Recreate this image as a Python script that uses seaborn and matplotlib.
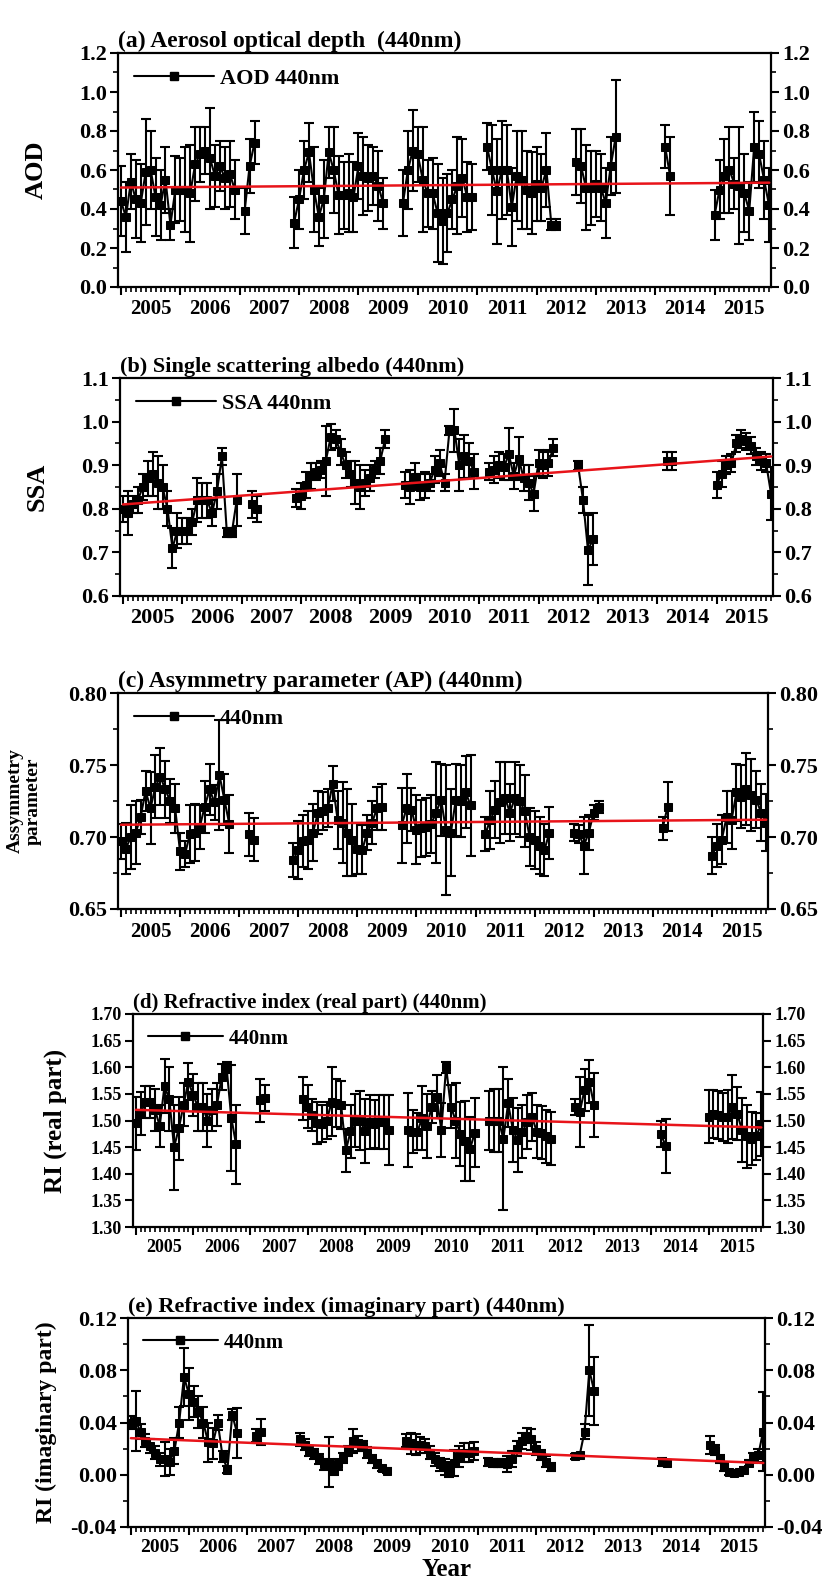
import numpy as np
import pandas as pd
import matplotlib
matplotlib.use("Agg")
import matplotlib.pyplot as plt
import seaborn as sns
from matplotlib.lines import Line2D
from matplotlib.ticker import MultipleLocator, FormatStrFormatter

N = np.nan

# ---------------- data ----------------
years = list(range(2005, 2016))
year_labels = [str(y) for y in years]
months = 2005 + np.arange(132) / 12.0   # Jan 2005 ... Dec 2015

aod = [
    .44, .36, .54, .45, .43, .59, .60, .46, .42, .55, .32, .50,   # 2005
    .50, .50, .48, .63, .68, .70, .66, .57, .62, .56, .58, .50,   # 2006
    N, .39, .62, .74, N, N, N, N, N, N, N, .33,                   # 2007
    .45, .60, .69, .50, .36, .45, .69, .60, .47, .47, .48, .46,   # 2008
    .62, .57, .56, .57, .52, .43, N, N, N, .43, .60, .70,         # 2009
    .68, .55, .48, .48, .38, .34, .38, .45, .52, .56, .46, .46,   # 2010
    N, N, .72, .60, .49, .60, .60, .41, .57, .55, .50, .48,       # 2011
    .53, .51, .60, .32, .32, N, N, N, .64, .62, .51, .51,         # 2012
    .53, .51, .43, .62, .77, N, N, N, N, N, N, N,                 # 2013
    N, N, .72, .57, N, N, N, N, N, N, N, N,                       # 2014
    .37, .50, .57, .60, .53, .52, .48, .39, .72, .68, .55, .42,   # 2015
]
aod_err = [
    .18, .18, .14, .20, .20, .27, .20, .20, .18, .17, .08, .17,
    .16, .22, .25, .19, .14, .12, .26, .16, .13, .16, .17, .15,
    N, .12, .14, .11, N, N, N, N, N, N, N, .13,
    .15, .15, .15, .22, .15, .20, .13, .22, .20, .17, .20, .18,
    .17, .20, .17, .15, .18, .13, N, N, N, .17, .20, .21,
    .14, .27, .17, .18, .25, .22, .20, .15, .25, .20, .18, .17,
    N, N, .12, .23, .27, .25, .23, .20, .23, .25, .20, .21,
    .19, .17, .19, .03, .03, N, N, N, .17, .19, .22, .19,
    .17, .17, .18, .15, .29, N, N, N, N, N, N, N,
    N, N, .11, .20, N, N, N, N, N, N, N, N,
    .13, .15, .19, .22, .13, .30, .20, .15, .18, .17, .20, .19,
]
aod_trend = [0.510, 0.535]

ssa = [
    .80, .79, .81, .82, .85, .87, .88, .86, .85, .80, .71, .75,
    .75, .75, .77, .82, .82, .82, .79, .84, .92, .745, .745, .82,
    N, N, .81, .80, N, N, N, N, N, N, N, .825,
    .83, .855, .875, .885, .89, .91, .965, .96, .93, .90, .88, .86,
    .85, .86, .87, .89, .91, .96, N, N, N, .855, .85, .874,
    .85, .855, .86, .89, .905, .86, .98, .98, .90, .92, .91, .885,
    N, N, .885, .89, .90, .895, .925, .875, .915, .87, .86, .835,
    .905, .90, .905, .94, N, N, N, N, .90, .82, .705, .73,
    N, N, N, N, N, N, N, N, N, N, N, N,
    N, N, .91, .91, N, N, N, N, N, N, N, N,
    .855, .88, .90, .905, .95, .96, .955, .945, .92, .91, .905, .835,
]
ssa_err = [
    .03, .05, .02, .03, .03, .04, .05, .06, .05, .04, .045, .04,
    .03, .03, .03, .05, .04, .04, .03, .04, .02, .01, .01, .06,
    N, N, .03, .03, N, N, N, N, N, N, N, .02,
    .03, .03, .03, .02, .02, .08, .03, .02, .03, .03, .03, .05,
    .05, .03, .03, .02, .03, .02, N, N, N, .03, .04, .03,
    .03, .03, .02, .03, .03, .02, .01, .05, .06, .05, .04, .04,
    N, N, .02, .03, .03, .03, .06, .03, .05, .03, .04, .04,
    .03, .03, .03, .02, N, N, N, N, .01, .03, .08, .06,
    N, N, N, N, N, N, N, N, N, N, N, N,
    N, N, .02, .02, N, N, N, N, N, N, N, N,
    .03, .03, .02, .02, .02, .02, .02, .02, .02, .02, .02, .06,
]
ssa_trend = [0.810, 0.920]

ap = [
    .697, .692, .700, .703, .714, .732, .720, .735, .742, .733, .725, .720,
    .690, .688, .702, .703, .707, .721, .733, .724, .743, .726, .709, N,
    N, N, .702, .698, N, N, N, N, N, N, N, .684,
    .691, .697, .698, .703, .717, .718, .720, .737, .712, .710, .703, .698,
    .692, .691, .703, .710, .720, .721, N, N, N, .708, .720, .719,
    .705, .706, .707, .709, .717, .726, .705, .703, .726, .725, .731, .722,
    N, N, .702, .712, .719, .724, .727, .717, .727, .725, .718, .700,
    .698, .694, .691, .703, N, N, N, N, .703, .702, .694, .703,
    .717, .721, N, N, N, N, N, N, N, N, N, N,
    N, N, .706, .721, N, N, N, N, N, N, N, N,
    .687, .694, .698, .714, .712, .731, .728, .733, .729, .726, .717, .710,
]
ap_err = [
    .012, .018, .022, .022, .012, .014, .025, .022, .020, .020, .015, .017,
    .013, .009, .020, .020, .015, .018, .018, .012, .038, .018, .020, N,
    N, N, .015, .015, N, N, N, N, N, N, N, .012,
    .020, .018, .020, .020, .015, .013, .013, .012, .020, .028, .030, .025,
    .018, .017, .012, .015, .015, .016, N, N, N, .026, .024, .015,
    .024, .020, .020, .020, .035, .025, .045, .030, .025, .025, .025, .035,
    N, N, .012, .020, .020, .028, .025, .020, .025, .025, .025, .020,
    .020, .020, .018, .018, N, N, N, N, .006, .006, .020, .012,
    .005, .004, N, N, N, N, N, N, N, N, N, N,
    N, N, .008, .017, N, N, N, N, N, N, N, N,
    .013, .015, .017, .018, .020, .020, .022, .025, .025, .020, .020, .020,
]
ap_trend = [0.7085, 0.7120]

ri_real = [
    1.495, 1.513, 1.535, 1.535, 1.520, 1.490, 1.565, 1.540, 1.450, 1.485, 1.530, 1.573,
    1.548, 1.526, 1.526, 1.500, 1.520, 1.530, 1.582, 1.600, 1.505, 1.455, N, N,
    N, N, 1.538, 1.542, N, N, N, N, N, N, N, 1.541,
    1.526, 1.510, 1.495, 1.494, 1.500, 1.535, 1.532, 1.529, 1.444, 1.480, 1.500, 1.500,
    1.480, 1.497, 1.494, 1.497, 1.497, 1.482, N, N, N, 1.482, 1.479, 1.479,
    1.505, 1.490, 1.526, 1.545, 1.482, 1.600, 1.526, 1.500, 1.474, 1.461, 1.446, 1.477,
    N, N, 1.500, 1.500, 1.500, 1.466, 1.532, 1.482, 1.463, 1.479, 1.497, 1.507,
    1.479, 1.477, 1.470, 1.466, N, N, N, N, 1.526, 1.516, 1.557, 1.573,
    1.529, N, N, N, N, N, N, N, N, N, N, N,
    N, N, 1.475, 1.452, N, N, N, N, N, N, N, N,
    1.507, 1.513, 1.510, 1.507, 1.507, 1.526, 1.513, 1.482, 1.470, 1.466, 1.470, 1.494,
]
ri_real_err = [
    .05, .04, .03, .03, .04, .04, .05, .06, .08, .06, .04, .035,
    .04, .045, .045, .05, .04, .04, .025, .01, .10, .075, N, N,
    N, N, .04, .025, N, N, N, N, N, N, N, .04,
    .04, .03, .04, .035, .035, .065, .045, .045, .04, .05, .05, .055,
    .06, .05, .045, .05, .05, .065, N, N, N, .07, .04, .035,
    .06, .06, .03, .04, .05, .01, .04, .07, .06, .075, .06, .065,
    N, N, .055, .06, .06, .135, .045, .06, .06, .05, .05, .045,
    .05, .05, .05, .05, N, N, N, N, .015, .065, .04, .04,
    .06, N, N, N, N, N, N, N, N, N, N, N,
    N, N, .025, .05, N, N, N, N, N, N, N, N,
    .05, .045, .045, .045, .05, .06, .05, .06, .06, .05, .045, .06,
]
ri_real_trend = [1.520, 1.487]

ri_imag = [
    .040, .041, .033, .026, .022, .017, .012, .012, .010, .018, .040, .075,
    .062, .056, .048, .040, .025, .024, .040, .014, .004, .046, .032, N,
    N, N, .030, .033, N, N, N, N, N, N, N, .027,
    .023, .018, .016, .012, .008, .010, .004, .008, .013, .018, .026, .024,
    .022, .017, .012, .008, .005, .003, N, N, N, .026, .024, .023,
    .023, .022, .017, .012, .008, .006, .004, .009, .014, .017, .017, .018,
    N, N, .010, .009, .009, .009, .008, .012, .020, .026, .030, .027,
    .020, .015, .010, .006, N, N, N, N, .014, .015, .033, .080,
    .064, N, N, N, N, N, N, N, N, N, N, N,
    N, N, .010, .009, N, N, N, N, N, N, N, N,
    .023, .019, .012, .006, .002, .001, .002, .004, .009, .013, .015, .033,
]
ri_imag_err = [
    .005, .023, .006, .005, .005, .005, .005, .013, .010, .010, .012, .022,
    .020, .012, .012, .012, .015, .012, .006, .004, .003, .004, .019, N,
    N, N, .005, .010, N, N, N, N, N, N, N, .005,
    .004, .004, .004, .004, .004, .019, .004, .004, .004, .004, .009, .006,
    .004, .004, .003, .003, .002, .002, N, N, N, .005, .008, .008,
    .006, .005, .005, .005, .005, .006, .006, .010, .008, .007, .007, .007,
    N, N, .003, .003, .003, .003, .006, .006, .006, .006, .006, .008,
    .005, .004, .004, .003, N, N, N, N, .002, .002, .006, .035,
    .026, N, N, N, N, N, N, N, N, N, N, N,
    N, N, .003, .002, N, N, N, N, N, N, N, N,
    .007, .004, .003, .003, .002, .002, .002, .002, .002, .004, .005, .030,
]
ri_imag_trend = [0.028, 0.009]

trend_t = [2005.0, 2015.92]

# ---------------- style ----------------
sns.set_theme(style="ticks")
plt.rcParams["font.family"] = ["Liberation Serif", "DejaVu Serif"]
plt.rcParams["font.weight"] = "bold"
plt.rcParams["axes.labelweight"] = "bold"
plt.rcParams["axes.titleweight"] = "bold"
plt.rcParams["axes.linewidth"] = 1.6
plt.rcParams["axes.edgecolor"] = "black"
plt.rcParams["xtick.color"] = "black"
plt.rcParams["ytick.color"] = "black"
plt.rcParams["text.color"] = "black"
plt.rcParams["axes.labelcolor"] = "black"

W, H = 829, 1590
fig = plt.figure(figsize=(W / 100, H / 100), dpi=100)
fig.patch.set_facecolor("white")

panels = [
    dict(v=aod, e=aod_err, tr=aod_trend,
         title="(a) Aerosol optical depth  (440nm)", ylabel="AOD", leg="AOD 440nm",
         ylim=(0.0, 1.2), major=0.2, minor=0.1, fmt="%.1f",
         box=(118, 771, 53, 287), tfs=16, yfs=15, lfs=19, ttl=17, lx=-0.107, legfs=16),
    dict(v=ssa, e=ssa_err, tr=ssa_trend,
         title="(b) Single scattering albedo (440nm)", ylabel="SSA", leg="SSA 440nm",
         ylim=(0.6, 1.1), major=0.1, minor=0.05, fmt="%.1f",
         box=(120, 773, 378, 596), tfs=16, yfs=16, lfs=19, ttl=16, lx=-0.109, legfs=16),
    dict(v=ap, e=ap_err, tr=ap_trend,
         title="(c) Asymmetry parameter (AP) (440nm)", ylabel="Assymmetry\nparameter", leg="440nm",
         ylim=(0.65, 0.80), major=0.05, minor=0.025, fmt="%.2f",
         box=(118, 768, 693, 909), tfs=16, yfs=15, lfs=14, ttl=17, lx=-0.118, legfs=16),
    dict(v=ri_real, e=ri_real_err, tr=ri_real_trend,
         title="(d) Refractive index (real part) (440nm)", ylabel="RI (real part)", leg="440nm",
         ylim=(1.30, 1.70), major=0.05, minor=None, fmt="%.2f",
         box=(133, 763, 1014, 1227), tfs=13, yfs=13, lfs=18, ttl=15, lx=-0.105, legfs=15),
    dict(v=ri_imag, e=ri_imag_err, tr=ri_imag_trend,
         title="(e) Refractive index (imaginary part) (440nm)", ylabel="RI (imaginary part)", leg="440nm",
         ylim=(-0.04, 0.12), major=0.04, minor=0.02, fmt="%.2f",
         box=(128, 765, 1318, 1527), tfs=16, yfs=14, lfs=17, ttl=16, lx=-0.112, legfs=15),
]

for i, p in enumerate(panels):
    l, r, t, b = p["box"]
    ax = fig.add_axes([l / W, 1 - b / H, (r - l) / W, (b - t) / H])
    ax.set_facecolor("white")

    v = np.array(p["v"], dtype=float)
    e = np.array(p["e"], dtype=float)
    seg = np.cumsum(np.isnan(v))
    df = pd.DataFrame({"t": months, "v": v, "e": e, "seg": seg}).dropna()

    ax.errorbar(df["t"], df["v"], yerr=df["e"], fmt="none", ecolor="black",
                elinewidth=1.5, capsize=3.8, capthick=1.5, zorder=2)
    sns.lineplot(data=df, x="t", y="v", units="seg", estimator=None, sort=True,
                 color="black", marker="s", markersize=5.5, markeredgecolor="black",
                 linewidth=1.5, legend=False, ax=ax, zorder=3)
    sns.lineplot(x=trend_t, y=p["tr"], color="#e8141a", linewidth=1.8,
                 legend=False, ax=ax, zorder=4)

    ax.set_xlim(2004.95, 2015.95)
    ax.set_ylim(*p["ylim"])
    ax.set_xticks(years)
    ax.set_xticklabels([])
    ax.xaxis.set_minor_locator(MultipleLocator(1 / 12))
    ax.yaxis.set_major_locator(MultipleLocator(p["major"]))
    if p["minor"]:
        ax.yaxis.set_minor_locator(MultipleLocator(p["minor"]))
    ax.yaxis.set_major_formatter(FormatStrFormatter(p["fmt"]))
    ax.tick_params(axis="both", which="major", direction="out", length=6, width=1.5,
                   labelsize=p["tfs"])
    ax.tick_params(axis="both", which="minor", direction="out", length=3.5, width=1.2)
    ax.tick_params(axis="y", which="both", left=True, right=True, labelleft=True,
                   labelright=True, pad=2)
    ax.tick_params(axis="x", which="both", top=False, bottom=True)
    for lab in ax.get_yticklabels():
        lab.set_fontweight("bold")

    sec = ax.secondary_xaxis("bottom")
    sec.set_xticks(np.array(years) + 0.5)
    sec.set_xticklabels(year_labels, fontsize=p["yfs"], fontweight="bold")
    sec.tick_params(length=0, pad=9)
    sec.spines["bottom"].set_visible(False)

    ax.set_xlabel("")
    ax.set_ylabel(p["ylabel"], fontsize=p["lfs"], fontweight="bold", linespacing=1.0)
    ax.yaxis.set_label_coords(p["lx"], 0.5)
    ax.set_title(p["title"], loc="left", fontsize=p["ttl"], fontweight="bold", pad=4)

    handle = Line2D([0], [0], color="black", marker="s", markersize=5.5, linewidth=1.5)
    ax.legend([handle], [p["leg"]], loc="upper left", frameon=False, handlelength=3.6,
              handletextpad=0.3, borderaxespad=0.3,
              prop={"family": ["Liberation Serif"], "weight": "bold", "size": p["legfs"]})

    if i == len(panels) - 1:
        sec.set_xlabel("Year", fontsize=18, fontweight="bold", labelpad=1)

fig.savefig("out.png", dpi=100, facecolor="white")
